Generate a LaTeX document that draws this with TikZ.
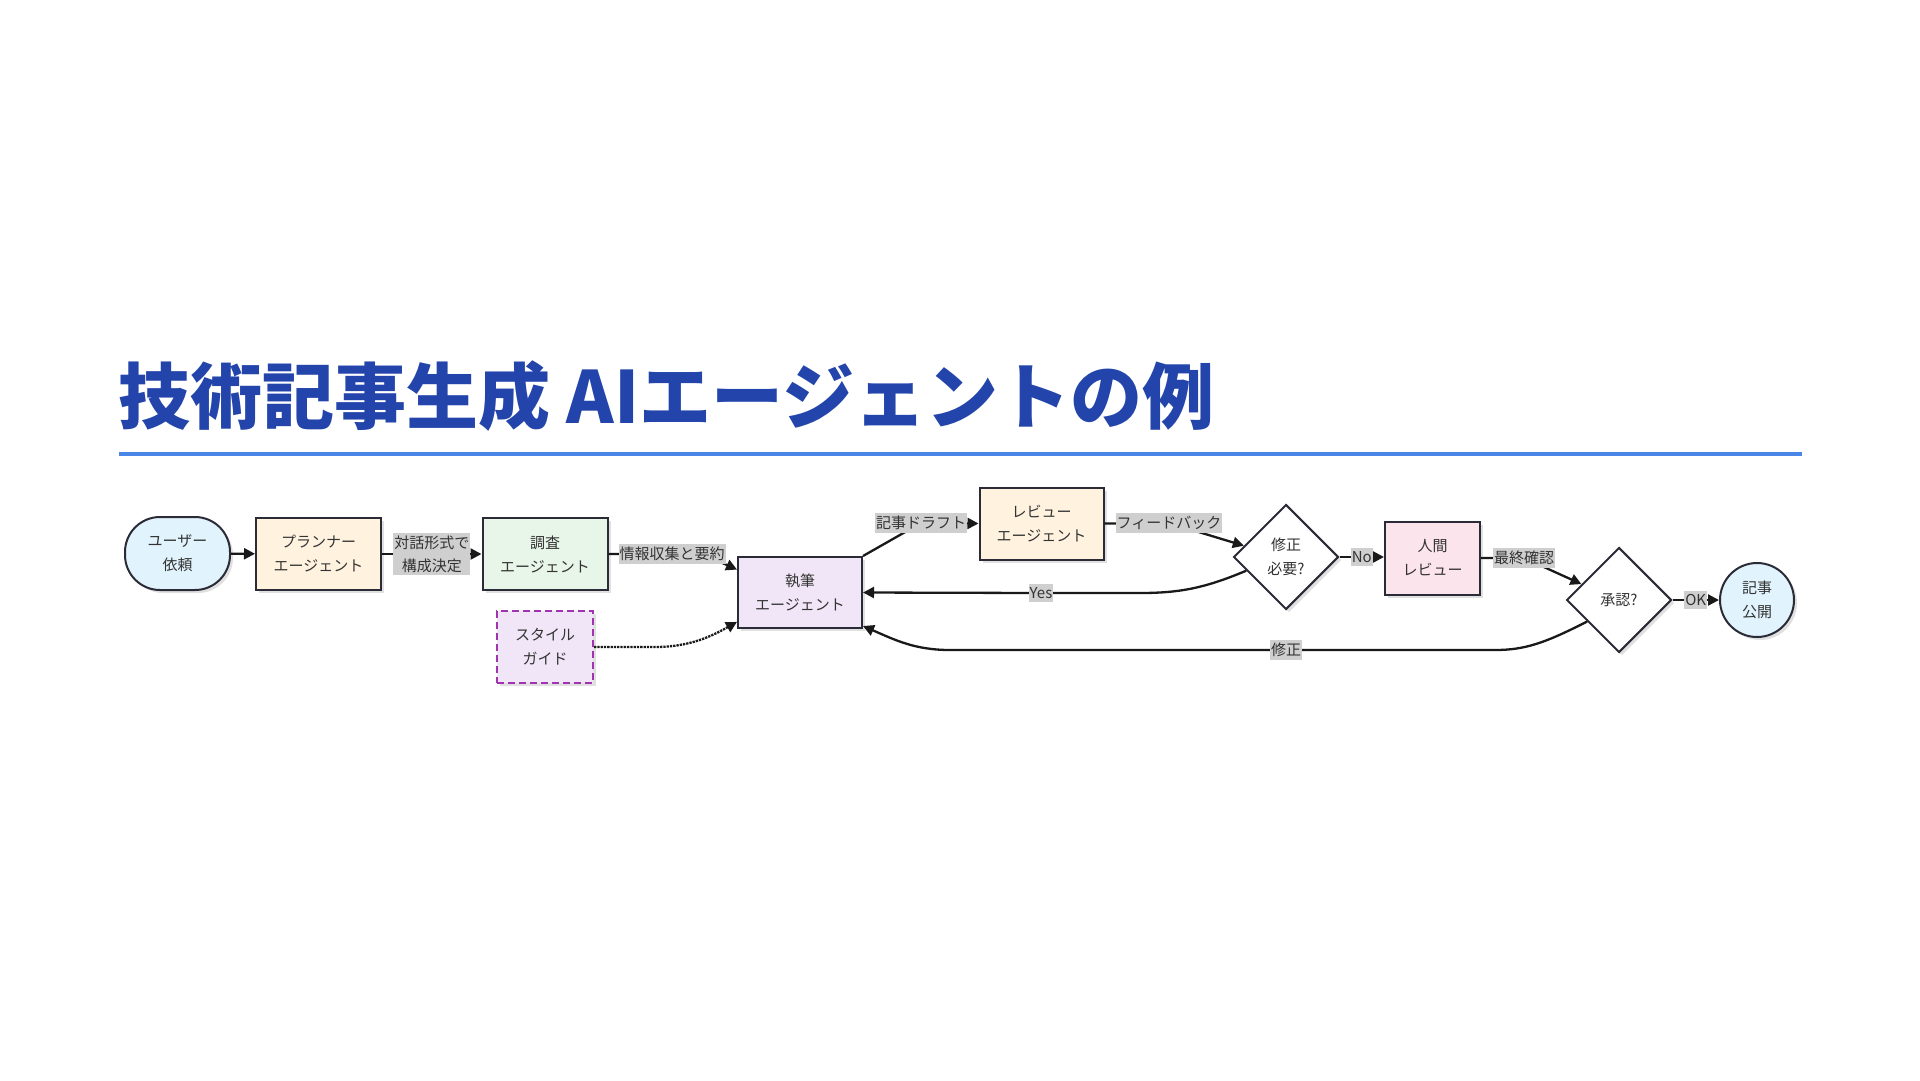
\documentclass[tikz,border=0pt]{standalone}
\usepackage{fontspec}
\setmainfont{Noto Sans CJK JP}
\usetikzlibrary{arrows.meta,shapes.geometric,shadows}
\definecolor{titleblue}{HTML}{2344AA}
\definecolor{ruleblue}{HTML}{4A86E8}
\definecolor{edgeclr}{HTML}{2B2B38}
\definecolor{txt}{HTML}{333333}
\definecolor{lblgray}{HTML}{CFCFCF}
\definecolor{fblue}{HTML}{E1F3FC}
\definecolor{fcream}{HTML}{FFF3E0}
\definecolor{fgreen}{HTML}{E8F5E9}
\definecolor{fpurple}{HTML}{F1E6F7}
\definecolor{fpink}{HTML}{FCE4EC}
\definecolor{dpurple}{HTML}{A033B0}
\tikzset{
  base/.style={draw=edgeclr, line width=2pt, text=txt, align=center,
    font=\fontsize{15}{24}\selectfont, inner sep=2pt,
    drop shadow={shadow xshift=3pt, shadow yshift=-3pt, opacity=0.12, fill=black}},
  boxnode/.style={base, rectangle, minimum width=#1, minimum height=72pt},
  termnode/.style={base, rectangle, rounded corners=35pt, minimum width=105pt, minimum height=73pt},
  decnode/.style={base, diamond, fill=white, minimum width=105pt, minimum height=105pt, inner sep=0pt},
  circnode/.style={base, circle, minimum size=74pt, inner sep=0pt},
  guidenode/.style={base, rectangle, dashed, dash pattern=on 7pt off 4pt, draw=dpurple, fill=fpurple, minimum width=96pt, minimum height=72pt},
  lbl/.style={fill=lblgray, text=txt, align=center, inner xsep=1pt, inner ysep=3pt,
    font=\fontsize{15}{23}\selectfont},
  arr/.style={draw=black!90, line width=2.3pt, -{Triangle[length=11pt,width=11pt]}},
  titletext/.style={text=titleblue, font=\fontsize{72}{85}\selectfont\bfseries, inner sep=0pt},
  rulestyle/.style={draw=ruleblue, line width=4pt}
}
\begin{document}
\begin{tikzpicture}[x=1pt,y=-1pt]
\useasboundingbox (0,0) rectangle (1920,1080);
\node[titletext, anchor=base west] (title) at (118,423) {技術記事生成 AIエージェントの例};
\coordinate (ruleL) at (119,454);
\coordinate (ruleR) at (1802,454);
\draw[rulestyle] (ruleL) -- (ruleR);

% nodes
\node[termnode, fill=fblue] (user) at (177.5,553.5) {ユーザー\\依頼};
\node[boxnode=125pt, fill=fcream] (planner) at (318.5,554) {プランナー\\エージェント};
\node[boxnode=125pt, fill=fgreen] (research) at (545,554) {調査\\エージェント};
\node[boxnode=124pt, fill=fpurple, minimum height=71pt] (writer) at (800,592.5) {執筆\\エージェント};
\node[guidenode] (guide) at (545,647) {スタイル\\ガイド};
\node[boxnode=124pt, fill=fcream] (review) at (1041.5,523.5) {レビュー\\エージェント};
\node[decnode] (dec1) at (1286,557) {修正\\必要?};
\node[boxnode=95pt, fill=fpink, minimum height=73pt] (human) at (1432.5,558) {人間\\レビュー};
\node[decnode] (dec2) at (1619,600) {承認?};
\node[circnode, fill=fblue] (pub) at (1757,600) {記事\\公開};

% edges
\draw[arr] (user) -- (planner);
\draw[arr] (planner) -- node[lbl] (l1) {対話形式で\\構成決定} (research);
\draw[arr] (research.east) -- (672,554) node[lbl] (l2) {情報収集と要約}
  .. controls (700,554) and (716,560) .. (writer.160);
\draw[arr, densely dotted] (guide.east) -- (655,647)
  .. controls (690,647) and (712,636) .. (writer.205);
\draw[arr] (writer.north east) -- (921,523) node[lbl] (l3) {記事ドラフト} -- (review.west);
\draw[arr] (review.east) -- (1169,523) node[lbl] (l4) {フィードバック} -- (dec1.165);
\draw[arr] (dec1.199) .. controls (1205,588) and (1180,593) .. (1140,593)
  -- (1041,593) node[lbl] (l5) {Yes} -- (writer.east);
\draw[arr] (dec1.east) -- node[lbl] (l6) {No} (human.west |- dec1.east);
\draw[arr] (human.east) -- (1524,558) node[lbl] (l7) {最終確認} -- (dec2.157);
\draw[arr] (dec2) -- node[lbl] (l8) {OK} (pub);
\draw[arr] (dec2.214) .. controls (1545,643) and (1525,650) .. (1495,650)
  -- (1286,650) node[lbl] (l9) {修正} -- (950,650)
  .. controls (915,650) and (895,640) .. (writer.-28);
\end{tikzpicture}
\end{document}
